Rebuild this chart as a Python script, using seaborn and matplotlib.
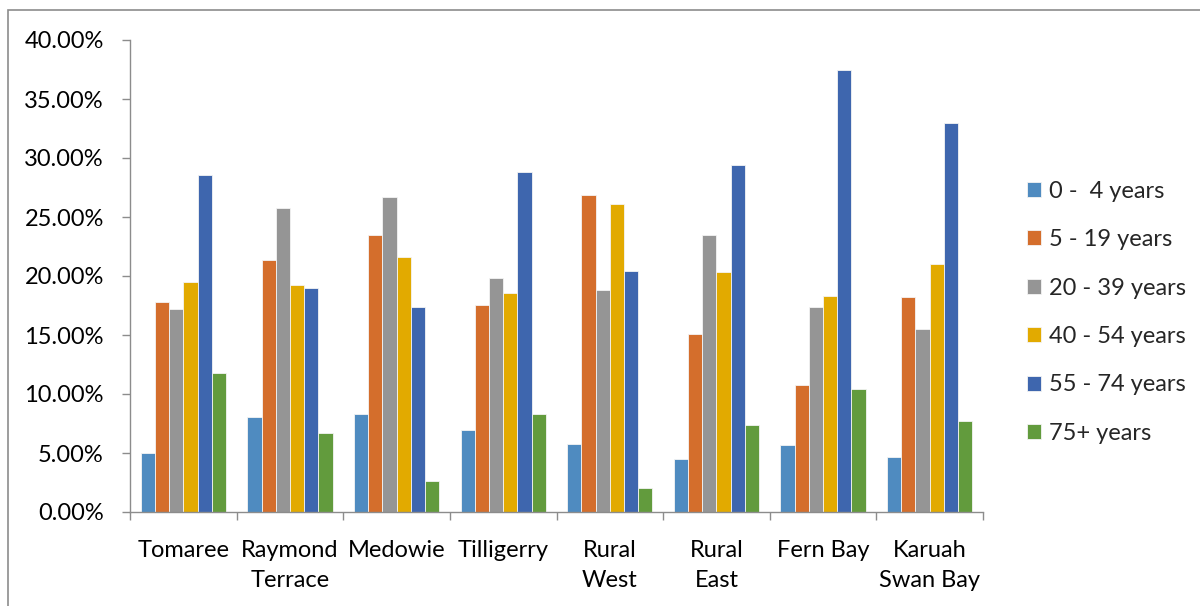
import matplotlib
matplotlib.use("Agg")
import matplotlib.pyplot as plt
from matplotlib.patches import Rectangle
from matplotlib.ticker import FuncFormatter, FixedLocator
import seaborn as sns
import pandas as pd
import numpy as np

# Age-group share of population by district (%)
districts = ["Tomaree", "Raymond\nTerrace", "Medowie", "Tilligerry",
             "Rural\nWest", "Rural\nEast", "Fern Bay", "Karuah\nSwan Bay"]
age_groups = ["0 -  4 years", "5 - 19 years", "20 - 39 years",
              "40 - 54 years", "55 - 74 years", "75+ years"]

age_0_4 = [5.0, 8.05, 8.3, 6.95, 5.75, 4.5, 5.7, 4.7]
age_5_19 = [17.8, 21.35, 23.45, 17.55, 26.9, 15.1, 10.8, 18.2]
age_20_39 = [17.2, 25.8, 26.7, 19.8, 18.8, 23.45, 17.4, 15.5]
age_40_54 = [19.5, 19.2, 21.65, 18.6, 26.1, 20.3, 18.3, 21.0]
age_55_74 = [28.6, 19.0, 17.4, 28.8, 20.4, 29.4, 37.5, 32.95]
age_75_plus = [11.8, 6.7, 2.65, 8.3, 2.05, 7.35, 10.45, 7.75]

colors = ["#4F8BC0", "#D46E2C", "#959595", "#E2AA00", "#3E66AE", "#629B3D"]

series = [age_0_4, age_5_19, age_20_39, age_40_54, age_55_74, age_75_plus]
df = pd.DataFrame({
    "district": np.tile(districts, len(age_groups)),
    "group": np.repeat(age_groups, len(districts)),
    "share": np.concatenate(series),
})

sns.set_theme(style="white")
plt.rcParams["font.family"] = ["Lato", "DejaVu Sans"]

FS = 17

fig = plt.figure(figsize=(12, 6.06), dpi=100)
ax = fig.add_axes([130 / 1200, 1 - 512 / 606, (983 - 130) / 1200, (512 - 40) / 606])

sns.barplot(data=df, x="district", y="share", hue="group", order=districts,
            hue_order=age_groups, palette=colors, width=0.8, saturation=1,
            edgecolor="#f4f4f4", linewidth=0.6, ax=ax, legend=True)

ax.set_xlim(-0.5, len(districts) - 0.5)
ax.set_ylim(0, 40)
ax.set_yticks(np.arange(0, 40.1, 5))
ax.yaxis.set_major_formatter(FuncFormatter(lambda v, p: f"{v:.2f}%"))
ax.set_xlabel("")
ax.set_ylabel("")

axis_gray = "#8c8c8c"
for side in ["top", "right"]:
    ax.spines[side].set_visible(False)
for side in ["left", "bottom"]:
    ax.spines[side].set_color(axis_gray)
    ax.spines[side].set_linewidth(1.0)

ax.tick_params(axis="y", which="major", left=True, length=5.8, width=1.0,
               color=axis_gray, labelsize=FS, labelcolor="black", pad=13)
ax.tick_params(axis="x", which="major", bottom=False, labelsize=FS,
               labelcolor="black", pad=14)
ax.xaxis.set_minor_locator(FixedLocator(np.arange(-0.5, len(districts), 1.0)))
ax.tick_params(axis="x", which="minor", bottom=True, length=5.8, width=1.0,
               color=axis_gray)
for lbl in ax.get_xticklabels():
    lbl.set_linespacing(1.55)

handles, labels = ax.get_legend_handles_labels()
ax.legend(handles, labels, loc="upper left", bbox_to_anchor=(1015 / 1200, 1 - 169 / 606),
          bbox_transform=fig.transFigure, frameon=False, fontsize=FS,
          handlelength=0.6, handleheight=0.6, handletextpad=0.35,
          labelspacing=1.16, borderpad=0)

# Chart area frame
fig.patches.append(Rectangle((8 / 1200, -0.05), 1.2, 1 - 10 / 606 + 0.05,
                             transform=fig.transFigure, fill=False,
                             edgecolor="#8c8c8c", linewidth=1.2))

fig.savefig("out.png", dpi=100, facecolor="white")
